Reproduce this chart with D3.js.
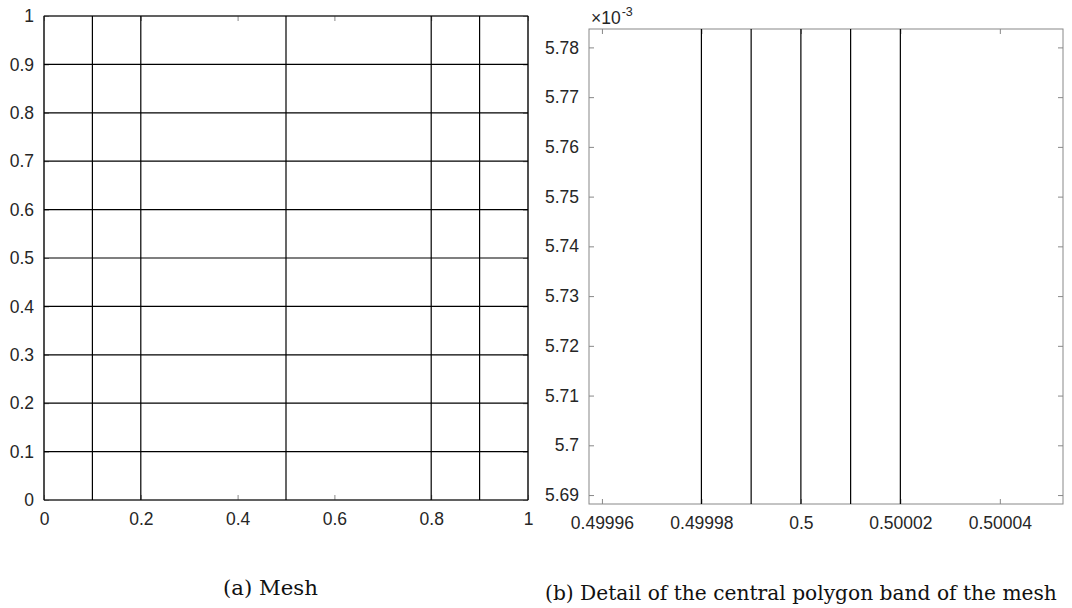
<!DOCTYPE html>
<html>
<head>
<meta charset="utf-8">
<script src="https://cdn.jsdelivr.net/npm/d3@7"></script>
<style>
  html, body { margin: 0; padding: 0; background: #fff; }
  svg { display: block; }
</style>
</head>
<body>
<svg id="fig" width="1072" height="608"></svg>
<script>
// ---- Mesh (panel a) ----
const meshX = [0, 0.1, 0.2, 0.5, 0.8, 0.9, 1];
const meshY = [0, 0.1, 0.2, 0.3, 0.4, 0.5, 0.6, 0.7, 0.8, 0.9, 1];
const meshXTicks = [0, 0.2, 0.4, 0.6, 0.8, 1];
const meshYTicks = [0, 0.1, 0.2, 0.3, 0.4, 0.5, 0.6, 0.7, 0.8, 0.9, 1];

// ---- Central band detail (panel b); y values in units of 1e-3 ----
const bandX = [0.49998, 0.49999, 0.5, 0.50001, 0.50002];
const bandXDomain = [0.4999574, 0.5000527];
const bandYDomain = [5.6882, 5.7837];
const bandXTicks = [0.49996, 0.49998, 0.5, 0.50002, 0.50004];
const bandYTicks = [5.69, 5.70, 5.71, 5.72, 5.73, 5.74, 5.75, 5.76, 5.77, 5.78];

const captions = ["(a) Mesh", "(b) Detail of the central polygon band of the mesh"];

const svg = d3.select("#fig");
const AXIS = "#888";
const LABEL = "#262626";
const FONT = "'Liberation Sans', Arial, sans-serif";
const FS = 17.5;

function panel(box, xs, ys, xTicks, yTicks, fmtX, fmtY) {
  const g = svg.append("g");
  const x = d3.scaleLinear().domain(xs).range([box.x0, box.x1]);
  const y = d3.scaleLinear().domain(ys).range([box.y1, box.y0]);

  // frame
  g.append("rect")
    .attr("x", box.x0).attr("y", box.y0)
    .attr("width", box.x1 - box.x0).attr("height", box.y1 - box.y0)
    .attr("fill", "none").attr("stroke", AXIS).attr("stroke-width", 1);

  const tick = 5;
  const styleAxis = (sel, showLabels) => {
    sel.attr("font-size", null).attr("font-family", null);
    sel.select(".domain").remove();
    sel.selectAll(".tick line").attr("stroke", AXIS);
    sel.selectAll(".tick text")
      .attr("fill", LABEL)
      .style("font-family", FONT)
      .style("font-size", FS + "px")
      .style("display", showLabels ? null : "none");
  };

  // bottom (labelled) and top ticks, pointing inward
  g.append("g").attr("transform", `translate(0,${box.y1})`)
    .call(d3.axisBottom(x).tickValues(xTicks).tickFormat(fmtX).tickSizeInner(-tick).tickSizeOuter(0).tickPadding(13))
    .call(s => styleAxis(s, true));
  g.append("g").attr("transform", `translate(0,${box.y0})`)
    .call(d3.axisTop(x).tickValues(xTicks).tickSizeInner(-tick).tickSizeOuter(0))
    .call(s => styleAxis(s, false));
  // left (labelled) and right ticks
  g.append("g").attr("transform", `translate(${box.x0},0)`)
    .call(d3.axisLeft(y).tickValues(yTicks).tickFormat(fmtY).tickSizeInner(-tick).tickSizeOuter(0).tickPadding(10))
    .call(s => styleAxis(s, true));
  g.append("g").attr("transform", `translate(${box.x1},0)`)
    .call(d3.axisRight(y).tickValues(yTicks).tickSizeInner(-tick).tickSizeOuter(0))
    .call(s => styleAxis(s, false));

  return { g, x, y };
}

// Panel (a): full mesh
const A = panel({ x0: 44, x1: 528, y0: 16, y1: 500 }, [0, 1], [0, 1],
  meshXTicks, meshYTicks, d => String(d), d => String(d));
A.g.append("g").selectAll("line.v").data(meshX).join("line")
  .attr("x1", d => A.x(d)).attr("x2", d => A.x(d))
  .attr("y1", A.y(0)).attr("y2", A.y(1))
  .attr("stroke", "#000").attr("stroke-width", 1.2);
A.g.append("g").selectAll("line.h").data(meshY).join("line")
  .attr("y1", d => A.y(d)).attr("y2", d => A.y(d))
  .attr("x1", A.x(0)).attr("x2", A.x(1))
  .attr("stroke", "#000").attr("stroke-width", 1.2);

// Panel (b): zoom on the central band
const B = panel({ x0: 589, x1: 1063, y0: 29, y1: 504 }, bandXDomain, bandYDomain,
  bandXTicks, bandYTicks, d => String(+d.toFixed(5)), d => String(+d.toFixed(2)));
B.g.append("g").selectAll("line").data(bandX).join("line")
  .attr("x1", d => B.x(d)).attr("x2", d => B.x(d))
  .attr("y1", B.y.range()[0]).attr("y2", B.y.range()[1])
  .attr("stroke", "#000").attr("stroke-width", 1.2);

// exponent label for the y axis of panel (b)
const exp = svg.append("text")
  .attr("x", 591).attr("y", 24)
  .attr("fill", LABEL)
  .style("font-family", FONT).style("font-size", FS + "px");
exp.append("tspan").text("×10");
exp.append("tspan").attr("dy", -8).attr("dx", 1).style("font-size", "12.5px").text("-3");

// sub-figure captions, sized to fit the width available under each panel
const CFONT = "'DejaVu Serif', serif";
function caption(text, x, y, width) {
  const t = svg.append("text").attr("x", x).attr("y", y)
    .attr("fill", "#111").style("font-family", CFONT).style("font-size", "20px")
    .text(text);
  const w = t.node().getComputedTextLength();
  t.style("font-size", (20 * width / w).toFixed(2) + "px");
  return t;
}
caption(captions[0], 223, 595, 95);
caption(captions[1], 545, 600, 512);
</script>
</body>
</html>
